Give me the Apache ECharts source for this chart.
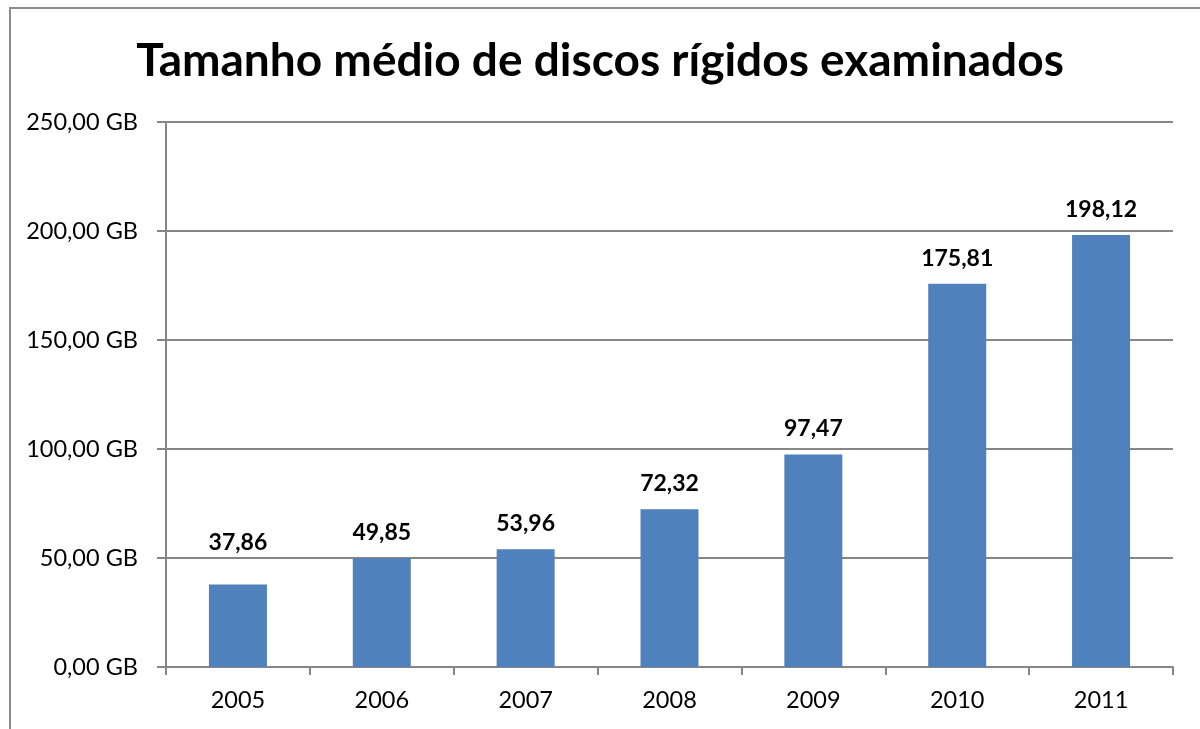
<!DOCTYPE html>
<html>
<head>
<meta charset="utf-8">
<script src="https://cdn.jsdelivr.net/npm/echarts@6/dist/echarts.min.js"></script>
<style>
  html, body { margin: 0; padding: 0; background: #fff; }
  #chart { width: 1200px; height: 729px; }
</style>
</head>
<body>
<div id="chart"></div>
<script>
// Average size of examined hard disks per year (GB)
const years = ['2005', '2006', '2007', '2008', '2009', '2010', '2011'];
const avgSizeGB = [37.86, 49.85, 53.96, 72.32, 97.47, 175.81, 198.12];
const yTicks = [0, 50, 100, 150, 200, 250];

const FONT = 'Lato, "Open Sans", "Liberation Sans", sans-serif';
const fmt = (v, d) => v.toFixed(d).replace('.', ',');

const chart = echarts.init(document.getElementById('chart'), null, { renderer: 'canvas' });

chart.setOption({
  animation: false,
  backgroundColor: '#ffffff',
  textStyle: { fontFamily: FONT },
  graphic: [{
    type: 'rect',
    shape: { x: 10, y: 8, width: 1300, height: 800 },
    style: { fill: 'none', stroke: '#8c8c8c', lineWidth: 2 },
    silent: true
  }],
  title: {
    text: 'Tamanho médio de discos rígidos examinados',
    left: 'center',
    top: 33,
    textStyle: { fontFamily: FONT, fontSize: 46, fontWeight: 'bold', color: '#000' }
  },
  grid: { left: 166, right: 27, top: 122, bottom: 62, containLabel: false },
  xAxis: {
    type: 'category',
    data: years,
    boundaryGap: true,
    axisLine: { lineStyle: { color: '#868686', width: 2 } },
    axisTick: { show: true, length: 8, lineStyle: { color: '#868686', width: 2 } },
    axisLabel: { fontFamily: FONT, fontSize: 23.5, color: '#000', margin: 21 }
  },
  yAxis: {
    type: 'value',
    min: yTicks[0],
    max: yTicks[yTicks.length - 1],
    interval: 50,
    axisLine: { show: true, lineStyle: { color: '#868686', width: 2 } },
    axisTick: { show: true, length: 9, lineStyle: { color: '#868686', width: 2 } },
    splitLine: { lineStyle: { color: '#868686', width: 2 } },
    axisLabel: {
      fontFamily: FONT, fontSize: 23.5, color: '#000', margin: 28,
      formatter: v => fmt(v, 2) + ' GB'
    }
  },
  series: [{
    type: 'bar',
    data: avgSizeGB.map((v, i) => i === 0
      ? { value: v, label: { offset: [0, -16] } }
      : v),
    barWidth: 58,
    itemStyle: { color: '#4f81bd' },
    label: {
      show: true,
      position: 'top',
      distance: 14,
      fontFamily: FONT,
      fontSize: 23,
      fontWeight: 'bold',
      color: '#000',
      formatter: p => fmt(p.value, 2)
    }
  }]
});
</script>
</body>
</html>
